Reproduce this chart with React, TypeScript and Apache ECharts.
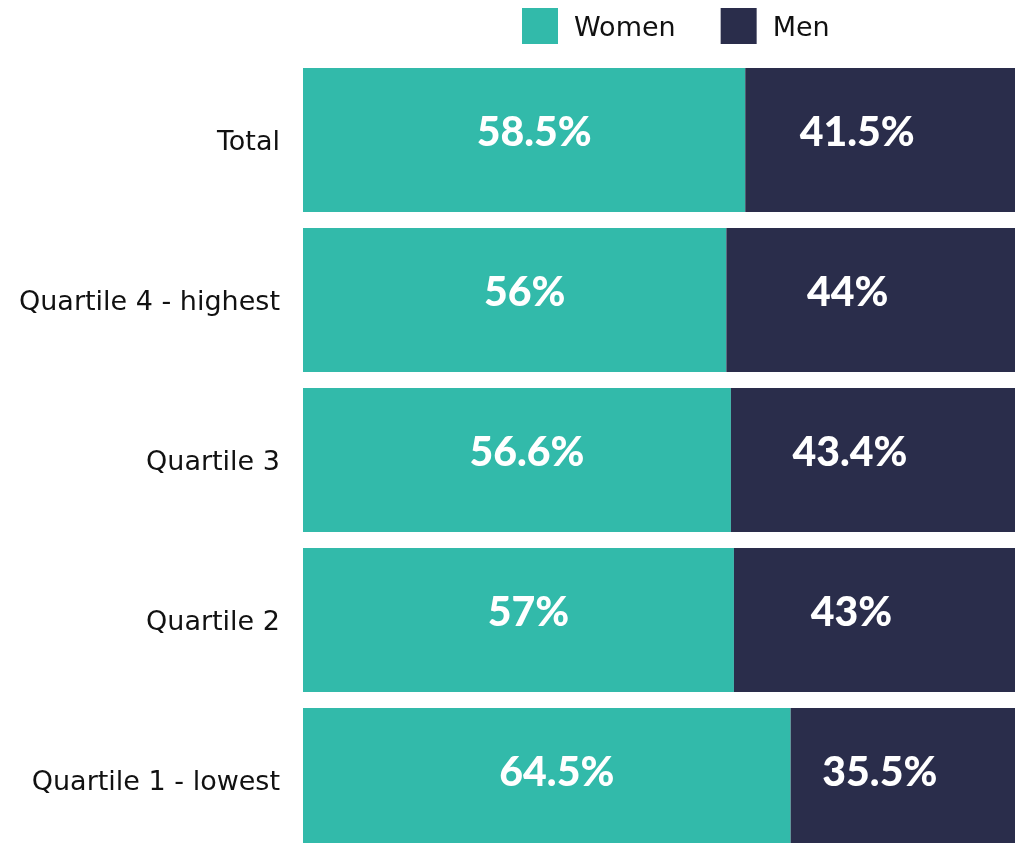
import React, { useEffect, useRef } from "react";
import * as echarts from "echarts";

const categories = ["Total", "Quartile 4 - highest", "Quartile 3", "Quartile 2", "Quartile 1 - lowest"];
const women = [58.5, 56, 56.6, 57, 64.5];
const men = [41.5, 44, 43.4, 43, 35.5];
const seriesNames = ["Women", "Men"];

const TEAL = "#32BAAA";
const NAVY = "#2A2D4B";
const FONT = "'DejaVu Sans', 'Open Sans', sans-serif";
const LABEL_FONT = "Lato, 'Open Sans', sans-serif";

export default function App() {
  const ref = useRef<HTMLDivElement>(null);
  useEffect(() => {
    if (!ref.current) return;
    const chart = echarts.init(ref.current, undefined, { renderer: "svg" });
    const labelBase = {
      show: true,
      position: "inside",
      color: "#ffffff",
      fontFamily: LABEL_FONT,
      fontWeight: 900,
      fontSize: 41,
      formatter: (p: any) => `${p.value}%`,
    };
    chart.setOption({
      animation: false,
      legend: {
        left: 517,
        top: 3,
        itemWidth: 36,
        itemHeight: 36,
        itemGap: 45,
        icon: "rect",
        textStyle: { fontFamily: FONT, fontSize: 27, color: "#111", padding: [0, 0, 0, 11] },
        data: seriesNames,
      },
      grid: { left: 303, top: 60, width: 756, height: 800, containLabel: false },
      xAxis: {
        type: "value",
        min: 0,
        max: 100,
        show: false,
      },
      yAxis: {
        type: "category",
        data: categories,
        inverse: true,
        axisLine: { show: false },
        axisTick: { show: false },
        splitLine: { show: false },
        axisLabel: { margin: 23, fontFamily: FONT, fontSize: 27, color: "#111" },
      },
      series: [
        {
          name: seriesNames[0],
          type: "bar",
          stack: "total",
          data: women,
          barCategoryGap: "10%",
          itemStyle: { color: TEAL },
          label: { ...labelBase, offset: [10, -10] },
        },
        {
          name: seriesNames[1],
          type: "bar",
          stack: "total",
          data: men,
          barCategoryGap: "10%",
          itemStyle: { color: NAVY },
          label: { ...labelBase, offset: [-45, -10] },
        },
      ],
    });
    return () => chart.dispose();
  }, []);
  return (
    <div style={{ position: "fixed", left: 0, top: 0, width: 1015, height: 843, overflow: "hidden" }}>
      <div ref={ref} style={{ width: 1080, height: 880 }} />
    </div>
  );
}
